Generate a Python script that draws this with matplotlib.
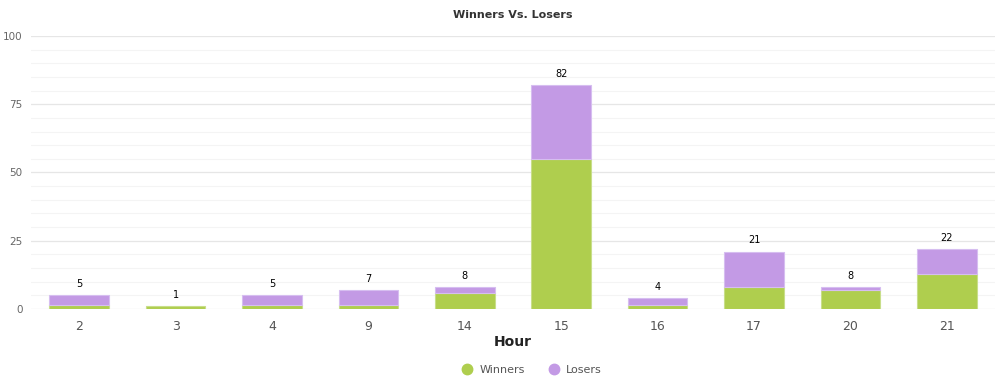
import matplotlib
matplotlib.use('Agg')
import matplotlib.pyplot as plt
import numpy as np
from matplotlib.lines import Line2D
from matplotlib.ticker import MultipleLocator

plt.rcParams.update({
    'font.family': ['DejaVu Sans'],
})

hours = ['2', '3', '4', '9', '14', '15', '16', '17', '20', '21']
totals = [5, 1, 5, 7, 8, 82, 4, 21, 8, 22]
winners = [1.5, 1, 1.5, 1.5, 6, 55, 1.5, 8, 7, 13]
losers = [t - w for t, w in zip(totals, winners)]

GREEN = '#AFCE4E'
PURPLE = '#C39AE5'

fig = plt.figure(figsize=(10.01, 3.88), dpi=100)
ax = fig.add_axes([31 / 1001, 1 - 309 / 388, (995 - 31) / 1001, (309 - 36) / 388])

x = np.arange(len(hours))
width = 0.62
ax.bar(x, winners, width, color=GREEN, edgecolor='#C8DE8A', linewidth=0.8, zorder=3)
for xi, w, l in zip(x, winners, losers):
    if l > 0:
        ax.bar(xi, l, width, bottom=w, color=PURPLE, edgecolor='#D6BEF0',
               linewidth=0.8, zorder=3)

for xi, t in zip(x, totals):
    ax.text(xi, t + 2.3, f'{t}', ha='center', va='bottom', fontsize=7, color='black')

ax.set_xlim(-0.5, len(hours) - 0.5)
ax.set_ylim(0, 100)
ax.yaxis.set_major_locator(MultipleLocator(25))
ax.yaxis.set_minor_locator(MultipleLocator(5))
ax.grid(True, which='major', axis='y', color='#e6e6e6', linewidth=0.9, zorder=0)
ax.grid(True, which='minor', axis='y', color='#f4f4f4', linewidth=0.8, zorder=0)
ax.set_axisbelow(True)
for s in ax.spines.values():
    s.set_visible(False)
ax.tick_params(axis='both', which='both', length=0)
ax.tick_params(axis='y', labelsize=7.5, labelcolor='#666666', pad=6)
ax.tick_params(axis='x', labelsize=9, labelcolor='#555555', pad=8)
ax.set_xticks(x)
ax.set_xticklabels(hours)

ax.set_xlabel('Hour', fontsize=10, fontweight='bold', color='#222222', labelpad=1)
ax.set_title('Winners Vs. Losers', fontsize=8, fontweight='bold', color='#333333', pad=13)

handles = [
    Line2D([], [], marker='o', linestyle='', markersize=7.5, color=GREEN, label='Winners'),
    Line2D([], [], marker='o', linestyle='', markersize=7.5, color=PURPLE, label='Losers'),
]
fig.legend(handles=handles, loc='center', bbox_to_anchor=(529 / 1001, 1 - 370 / 388), ncol=2,
           frameon=False, fontsize=8, labelcolor='#555555', handletextpad=0.1,
           columnspacing=1.6)

fig.savefig('out.png', dpi=100)
